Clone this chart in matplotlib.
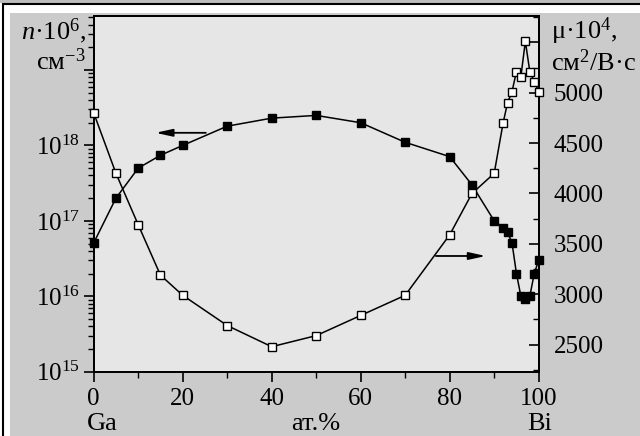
import matplotlib
matplotlib.use("Agg")
import matplotlib.pyplot as plt
from matplotlib.patches import Rectangle
from matplotlib.ticker import FixedLocator, MultipleLocator, LogLocator, NullFormatter, FuncFormatter
import numpy as np

plt.rcParams['font.family'] = ['Liberation Serif', 'DejaVu Serif']
plt.rcParams['mathtext.fontset'] = 'custom'
plt.rcParams['mathtext.rm'] = 'Liberation Serif'
plt.rcParams['mathtext.it'] = 'Liberation Serif:italic'

# composition, at.% Bi
x_n = [0, 5, 10, 15, 20, 30, 40, 50, 60, 70, 80, 85, 90, 92, 93, 94, 95, 96, 97, 98, 99, 100]
# carrier concentration n, cm^-3 (left, log)
n_vals = [5.1e16, 2.0e17, 5.0e17, 7.4e17, 1.0e18, 1.8e18, 2.3e18, 2.5e18, 2.0e18, 1.1e18,
          7.1e17, 3.0e17, 1.0e17, 8.1e16, 7.1e16, 5.1e16, 2.0e16, 1.0e16, 9.3e15, 1.0e16,
          2.0e16, 3.0e16]
x_mu = [0, 5, 10, 15, 20, 30, 40, 50, 60, 70, 80, 85, 90, 92, 93, 94, 95, 96, 97, 98, 99, 100]
# mobility mu, cm^2/V s (right, linear)
mu_vals = [4800, 4200, 3690, 3190, 2990, 2690, 2480, 2590, 2790, 2990, 3590, 4000, 4200,
           4700, 4900, 5010, 5210, 5160, 5510, 5210, 5110, 5010]

left_ticks = [1e15, 1e16, 1e17, 1e18, 1e19]
right_ticks = [2500, 3000, 3500, 4000, 4500, 5000, 5500]
x_ticks = [0, 20, 40, 60, 80, 100]

W, H = 640, 436
FS = 19
TFS = 18
fig = plt.figure(figsize=(6.4, 4.36), dpi=100, facecolor='white')

# scan-like frame and grey panel, kept behind the axes
fig.patches.append(Rectangle((0, 1 - 3 / H), 1, 3 / H, transform=fig.transFigure,
                             facecolor='#bdbdbd', edgecolor='none', zorder=-10))
fig.patches.append(Rectangle((3 / W, -0.1), 1.2, 1 - 4 / H + 0.1, transform=fig.transFigure,
                             facecolor='white', edgecolor='black', lw=1.5, zorder=-10))
fig.patches.append(Rectangle((10 / W, -0.1), 1.2, 1 - 13 / H + 0.1, transform=fig.transFigure,
                             facecolor='#cbcbcb', edgecolor='none', zorder=-9))

ax = fig.add_axes([93.7 / W, 1 - 371.7 / H, 445 / W, (371.7 - 16) / H])
ax.set_facecolor('#e6e6e6')
ax2 = ax.twinx()

ax.plot(x_n, n_vals, color='black', lw=1.1, marker='s', ms=6.3, mfc='black', mec='black',
        clip_on=False, zorder=3)
ax2.plot(x_mu, mu_vals, color='black', lw=1.1, marker='s', ms=6.3, mfc='white', mec='black',
         mew=1.0, clip_on=False, zorder=3)

ax.set_yscale('log')
ax.set_xlim(0, 100)
ax.set_ylim(1e15, 5.2e19)
ax2.set_ylim(2232, 5761)

ax.xaxis.set_major_locator(FixedLocator(x_ticks))
ax.xaxis.set_minor_locator(MultipleLocator(10))
ax.yaxis.set_major_locator(FixedLocator(left_ticks))
ax.yaxis.set_minor_locator(LogLocator(base=10, subs=np.arange(2, 10)))
ax.yaxis.set_minor_formatter(NullFormatter())
ax.yaxis.set_major_formatter(FuncFormatter(
    lambda v, p: '' if v >= 1e19 else r'$10^{%d}$' % round(np.log10(v))))

ax2.yaxis.set_major_locator(FixedLocator(right_ticks))
ax2.yaxis.set_minor_locator(MultipleLocator(250))
ax2.yaxis.set_major_formatter(FuncFormatter(lambda v, p: '' if v > 5400 else '%d' % v))

for a in (ax, ax2):
    for s in a.spines.values():
        s.set_linewidth(1.4)
ax.tick_params(axis='both', which='major', direction='out', length=7, width=1.2,
               labelsize=TFS, pad=3)
ax.tick_params(axis='both', which='minor', direction='out', length=4, width=1.0)
ax.tick_params(axis='x', which='major', pad=5)
ax2.tick_params(axis='y', which='major', direction='in', length=7, width=1.2,
                labelsize=TFS, pad=11)
ax2.tick_params(axis='y', which='minor', direction='in', length=4, width=1.0)

# arrows indicating which axis each curve belongs to
arrow_style = dict(arrowstyle='-|>,head_length=1.0,head_width=0.22',
                   color='black', lw=1.3, shrinkA=0, shrinkB=0)
ax.annotate('', xy=(13.9, 1.47e18), xytext=(25.2, 1.47e18), arrowprops=arrow_style)
ax2.annotate('', xy=(88.1, 3380), xytext=(76.9, 3380), arrowprops=arrow_style)

# axis labels
fig.text(86 / W, 1 - 46 / H, '$n$·10$^6$,\nсм$^{-3}$', ha='right', va='center',
         fontsize=FS, multialignment='right', linespacing=1.1)
fig.text(551 / W, 1 - 46 / H, 'μ·10$^4$,\nсм$^2$/В·с', ha='left', va='center',
         fontsize=FS, multialignment='left', linespacing=1.1)
fig.text(87 / W, 1 - 424 / H, 'Ga', ha='left', va='center', fontsize=FS)
fig.text(316 / W, 1 - 424 / H, 'ат.%', ha='center', va='center', fontsize=FS)
fig.text(540 / W, 1 - 424 / H, 'Bi', ha='center', va='center', fontsize=FS)

fig.savefig('out.png', dpi=100, facecolor=fig.get_facecolor())
